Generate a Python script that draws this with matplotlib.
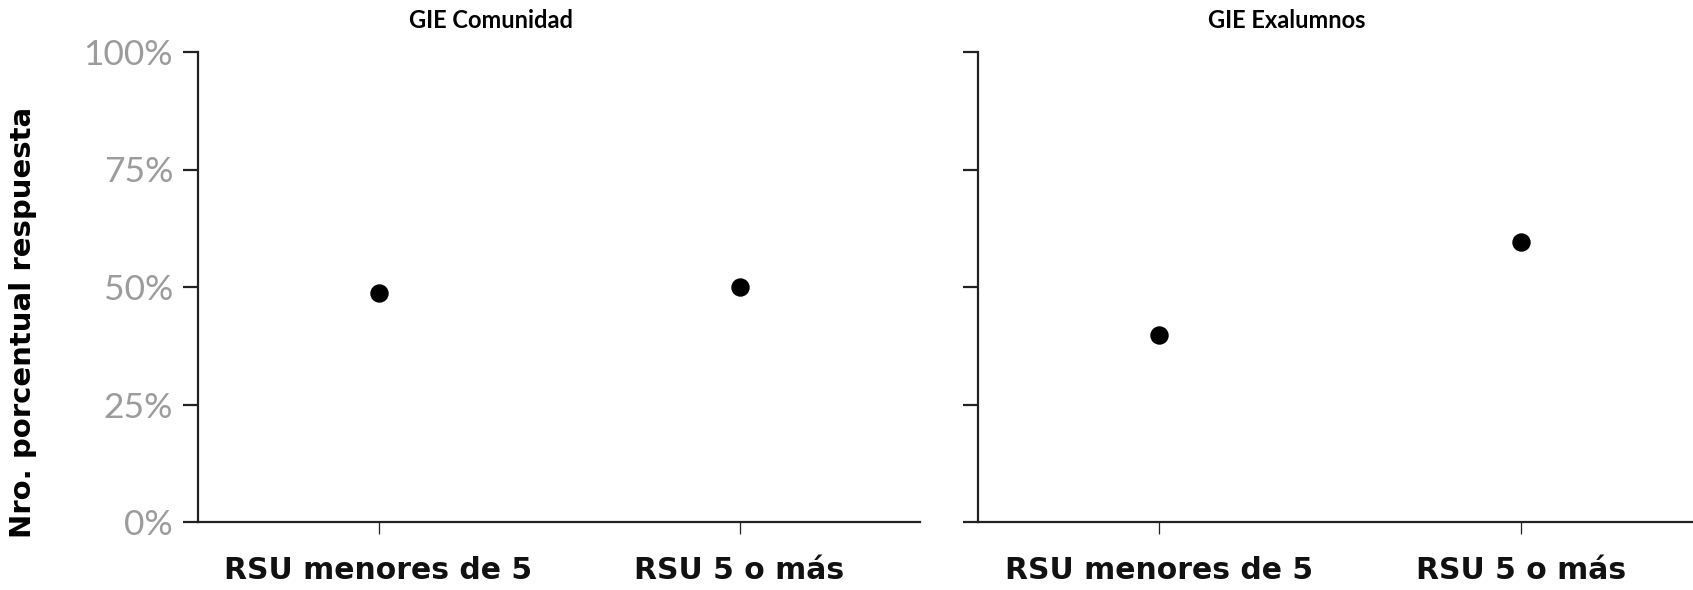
import matplotlib
matplotlib.use("Agg")
import matplotlib.pyplot as plt
from matplotlib.ticker import PercentFormatter

# datos
categorias = ["RSU menores de 5", "RSU 5 o más"]
comunidad = [48.7, 50.1]
exalumnos = [39.8, 59.6]
titulos = ["GIE Comunidad", "GIE Exalumnos"]
yticks = [0, 25, 50, 75, 100]

plt.rcParams['font.family'] = ['DejaVu Sans']

fig = plt.figure(figsize=(16.93, 5.90), dpi=100)

W, H = 1693, 590
pos_left = [198 / W, 1 - 522 / H, 722 / W, 470 / H]
pos_right = [978 / W, 1 - 522 / H, 724 / W, 470 / H]

axes = [fig.add_axes(pos_left), fig.add_axes(pos_right)]
series = [comunidad, exalumnos]

for i, (ax, vals) in enumerate(zip(axes, series)):
    x = list(range(len(categorias)))
    ax.scatter(x, vals, s=150, color='black', zorder=3, clip_on=False)
    ax.set_xlim(-0.5, 1.5)
    ax.set_ylim(0, 100)
    ax.set_xticks(x)
    ax.set_xticklabels(categorias, fontsize=21.5, fontweight='bold',
                       color='#111111', family='DejaVu Sans')
    ax.set_yticks(yticks)
    ax.yaxis.set_major_formatter(PercentFormatter(decimals=0))
    for s in ['top', 'right']:
        ax.spines[s].set_visible(False)
    for s in ['left', 'bottom']:
        ax.spines[s].set_linewidth(1.6)
        ax.spines[s].set_color('#222222')
    ax.tick_params(axis='y', length=11, width=1.6, color='#222222', pad=7,
                   labelsize=25.5, labelcolor='#9c9c9c')
    ax.tick_params(axis='x', length=8.5, width=0.9, color='#222222', pad=16)
    for lab in ax.get_yticklabels():
        lab.set_family(['Lato', 'DejaVu Sans'])
        lab.set_fontweight('normal')
    if i == 1:
        ax.tick_params(axis='y', labelleft=False)

fig.text(491 / W, 1 - 20 / H, titulos[0], ha='center', va='center',
         fontsize=17, fontweight='bold', family=['Lato', 'DejaVu Sans'])
fig.text(1287 / W, 1 - 20 / H, titulos[1], ha='center', va='center',
         fontsize=17, fontweight='bold', family=['Lato', 'DejaVu Sans'])

fig.text(23 / W, 1 - 322 / H, "Nro. porcentual respuesta", rotation=90,
         ha='center', va='center', fontsize=21, fontweight='bold')

fig.savefig("out.png", dpi=100)
